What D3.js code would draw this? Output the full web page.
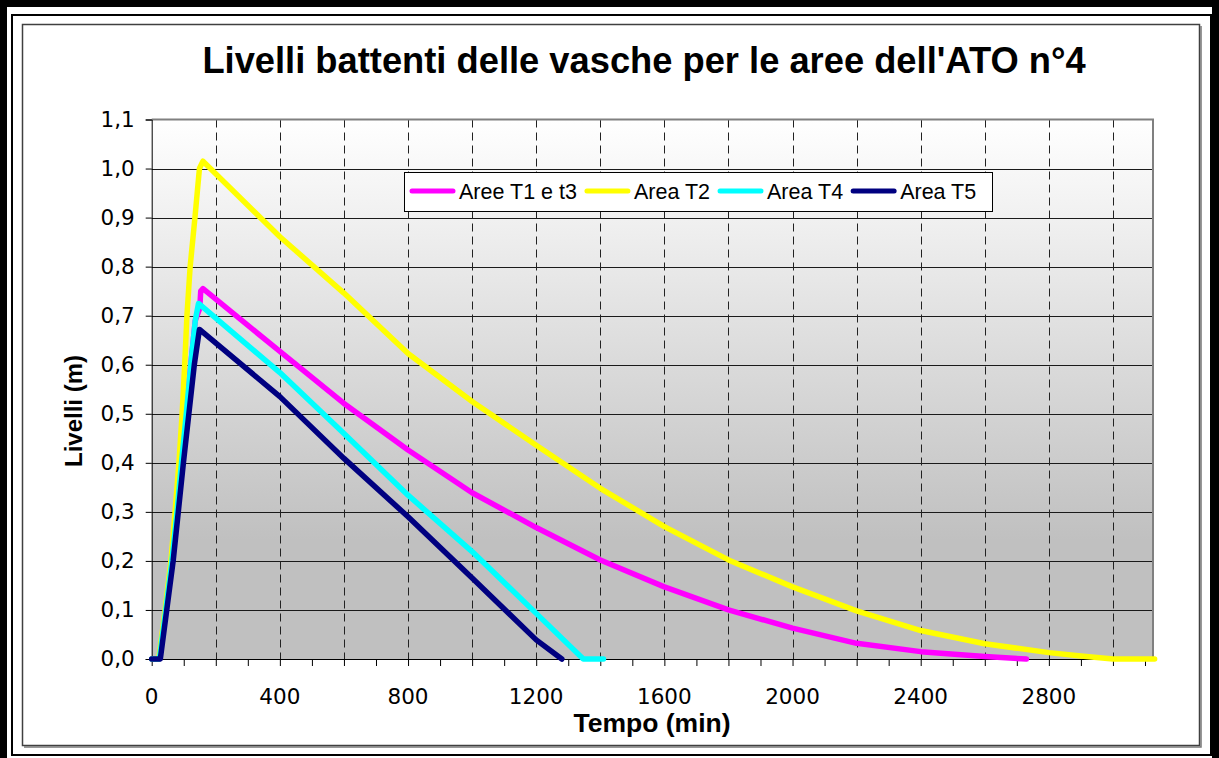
<!DOCTYPE html>
<html>
<head>
<meta charset="utf-8">
<script src="https://cdn.jsdelivr.net/npm/d3@7"></script>
<style>
  body { margin: 0; background: #fff; }
  #levels-vis { width: 1219px; height: 758px; }
  svg { display: block; }
</style>
</head>
<body>
<div id="levels-vis"></div>
<script>
// values: [tempo (min), livello (m)]
var seriesNames = ["Aree T1 e t3", "Area T2", "Area T4", "Area T5"];
var seriesColors = ["#ff00ff", "#ffff00", "#00ffff", "#000080"];

var areeT1t3 = [[0,0],[24,0],[44,0.1],[63,0.2],[79,0.3],[93,0.4],[108,0.5],[122,0.6],[136,0.69],[150,0.715],[153,0.75],[160,0.755],
  [400,0.627],[600,0.521],[800,0.426],[1000,0.339],[1200,0.268],[1400,0.202],[1600,0.147],[1800,0.100],[2000,0.063],
  [2200,0.032],[2400,0.015],[2600,0.005],[2730,0]];
var areaT2 = [[0,0],[22,0],[42,0.1],[60,0.2],[73,0.3],[85,0.4],[95,0.5],[103,0.6],[110,0.7],[120,0.8],[135,0.9],[149,1.0],[160,1.015],
  [400,0.861],[600,0.746],[800,0.623],[1000,0.525],[1200,0.436],[1400,0.348],[1600,0.270],[1800,0.202],[2000,0.147],
  [2200,0.098],[2400,0.058],[2600,0.031],[2800,0.013],[2900,0.006],[3000,0],[3130,0]];
var areaT4 = [[0,0],[24,0],[44,0.1],[63,0.2],[79,0.3],[93,0.4],[108,0.5],[122,0.6],[136,0.69],[146,0.725],
  [400,0.584],[600,0.460],[800,0.334],[1000,0.219],[1200,0.093],[1347,0],[1410,0]];
var areaT5 = [[0,0],[27,0],[47,0.1],[67,0.2],[83,0.3],[99,0.4],[116,0.5],[133,0.6],[149,0.672],
  [400,0.535],[600,0.409],[800,0.290],[1000,0.165],[1200,0.039],[1280,0]];

var xTickLabels = [0, 400, 800, 1200, 1600, 2000, 2400, 2800];
var xTickMarks = d3.range(0, 3101, 100);
var xGridValues = d3.range(200, 3001, 200);
var yTickValues = [0, 0.1, 0.2, 0.3, 0.4, 0.5, 0.6, 0.7, 0.8, 0.9, 1.0, 1.1];

LevelsVis = function(_parentElement) {
  this.settings = {
    parentElement: _parentElement,
    plot: {left: 151.7, right: 1153, top: 119.5, bottom: 659},
    xMax: 3125,
    yMax: 1.1,
    tickFont: "21.5px"
  };
  this.data = [areeT1t3, areaT2, areaT4, areaT5];
  this.initVis();
}

LevelsVis.prototype.initVis = function() {
  var vis = this;
  var p = vis.settings.plot;

  vis.width = 1219;
  vis.height = 758;

  vis.svg = d3.select("#" + vis.settings.parentElement).append("svg")
    .attr("width", vis.width)
    .attr("height", vis.height);

  // outer frame (thick + thin black) and chart area border
  vis.svg.append("rect").attr("x", 3.5).attr("y", 3.5).attr("width", 1212).attr("height", 760)
    .attr("fill", "none").attr("stroke", "#000").attr("stroke-width", 7);
  vis.svg.append("rect").attr("x", 12).attr("y", 15).attr("width", 1199).attr("height", 740)
    .attr("fill", "none").attr("stroke", "#000").attr("stroke-width", 2);
  vis.svg.append("rect").attr("x", 22.5).attr("y", 24.5).attr("width", 1177).attr("height", 721)
    .attr("fill", "#fff").attr("stroke", "#404040").attr("stroke-width", 1.5);
  vis.svg.append("path").attr("d", "M1201,26 V747 H24")
    .attr("fill", "none").attr("stroke", "#777").attr("stroke-width", 1.5);

  var defs = vis.svg.append("defs");
  var grad = defs.append("linearGradient").attr("id", "plotGrad")
    .attr("x1", 0).attr("y1", 0).attr("x2", 0).attr("y2", 1);
  grad.append("stop").attr("offset", "0%").attr("stop-color", "#ffffff");
  grad.append("stop").attr("offset", "78%").attr("stop-color", "#c0c0c0");
  grad.append("stop").attr("offset", "100%").attr("stop-color", "#c0c0c0");

  vis.x = d3.scaleLinear().domain([0, vis.settings.xMax]).range([p.left, p.right]);
  vis.y = d3.scaleLinear().domain([0, vis.settings.yMax]).range([p.bottom, p.top]);

  vis.svg.append("rect")
    .attr("x", p.left).attr("y", p.top)
    .attr("width", p.right - p.left).attr("height", p.bottom - p.top)
    .attr("fill", "url(#plotGrad)");

  // gridlines
  vis.svg.append("g").selectAll(".hgrid").data(yTickValues.slice(1, -1)).enter()
    .append("line").attr("class", "hgrid")
    .attr("x1", p.left).attr("x2", p.right)
    .attr("y1", d => Math.round(vis.y(d)) + 0.5).attr("y2", d => Math.round(vis.y(d)) + 0.5)
    .attr("stroke", "#1a1a1a").attr("stroke-width", 1);

  vis.svg.append("g").selectAll(".vgrid").data(xGridValues).enter()
    .append("line").attr("class", "vgrid")
    .attr("x1", d => Math.round(vis.x(d)) + 0.5).attr("x2", d => Math.round(vis.x(d)) + 0.5)
    .attr("y1", p.top).attr("y2", p.bottom)
    .attr("stroke", "#222").attr("stroke-width", 1).attr("stroke-dasharray", "8,5");

  // plot border top/right
  vis.svg.append("path")
    .attr("d", "M" + p.left + "," + p.top + " H" + p.right + " V" + p.bottom)
    .attr("fill", "none").attr("stroke", "#808080").attr("stroke-width", 2);

  // axes
  var xAxis = d3.axisBottom(vis.x).tickValues(xTickMarks).tickSize(7).tickFormat("");
  var gx = vis.svg.append("g").attr("transform", "translate(0," + p.bottom + ")").call(xAxis);
  gx.select(".domain").attr("stroke", "#000").attr("d", "M" + p.left + ",0.5H" + p.right);
  gx.selectAll(".tick line").attr("stroke", "#000");

  vis.svg.append("g").selectAll(".xlab").data(xTickLabels).enter()
    .append("text").attr("class", "xlab")
    .attr("x", d => vis.x(d)).attr("y", 704)
    .attr("text-anchor", "middle")
    .style("font-family", "'DejaVu Sans', Verdana, sans-serif").style("font-size", vis.settings.tickFont)
    .text(d => d);

  var yAxis = d3.axisLeft(vis.y).tickValues(yTickValues).tickSize(6).tickPadding(11)
    .tickFormat(d => d3.format(".1f")(d).replace(".", ","));
  var gy = vis.svg.append("g").attr("transform", "translate(" + p.left + ",0)").call(yAxis);
  gy.select(".domain").attr("stroke", "#000");
  gy.selectAll(".tick line").attr("stroke", "#000");
  gy.selectAll(".tick text")
    .style("font-family", "'DejaVu Sans', Verdana, sans-serif").style("font-size", vis.settings.tickFont).attr("fill", "#000");

  // series
  var line = d3.line().x(d => vis.x(d[0])).y(d => vis.y(d[1]));
  vis.svg.append("g").selectAll(".series").data(vis.data).enter()
    .append("path").attr("class", "series")
    .attr("d", line)
    .attr("fill", "none")
    .attr("stroke", (d, i) => seriesColors[i])
    .attr("stroke-width", 5.5)
    .attr("stroke-linejoin", "round")
    .attr("stroke-linecap", "round");

  // titles
  vis.svg.append("text").attr("x", 644).attr("y", 73).attr("text-anchor", "middle")
    .style("font-family", "'Liberation Sans', Arial, sans-serif").style("font-weight", "bold").style("font-size", "36.3px")
    .text("Livelli battenti delle vasche per le aree dell'ATO n°4");
  vis.svg.append("text").attr("x", 652).attr("y", 732).attr("text-anchor", "middle")
    .style("font-family", "'Liberation Sans', Arial, sans-serif").style("font-weight", "bold").style("font-size", "26.5px")
    .text("Tempo (min)");
  vis.svg.append("text").attr("transform", "translate(82,411) rotate(-90)").attr("text-anchor", "middle")
    .style("font-family", "'Liberation Sans', Arial, sans-serif").style("font-weight", "bold").style("font-size", "24px")
    .text("Livelli (m)");

  // legend
  var lg = vis.svg.append("g");
  lg.append("rect").attr("x", 404.5).attr("y", 172.5).attr("width", 588).attr("height", 39)
    .attr("fill", "#fff").attr("stroke", "#000").attr("stroke-width", 1);
  var cx = 410;
  seriesNames.forEach(function(name, i) {
    lg.append("line").attr("x1", cx + 2).attr("x2", cx + 43).attr("y1", 191).attr("y2", 191)
      .attr("stroke", seriesColors[i]).attr("stroke-width", 5).attr("stroke-linecap", "round");
    var t = lg.append("text").attr("x", cx + 49).attr("y", 199)
      .style("font-family", "'Liberation Sans', Arial, sans-serif").style("font-size", "21.5px")
      .text(name);
    cx = cx + 49 + t.node().getComputedTextLength() + 8;
  });
}

var levelsVis = new LevelsVis("levels-vis");
</script>
</body>
</html>
